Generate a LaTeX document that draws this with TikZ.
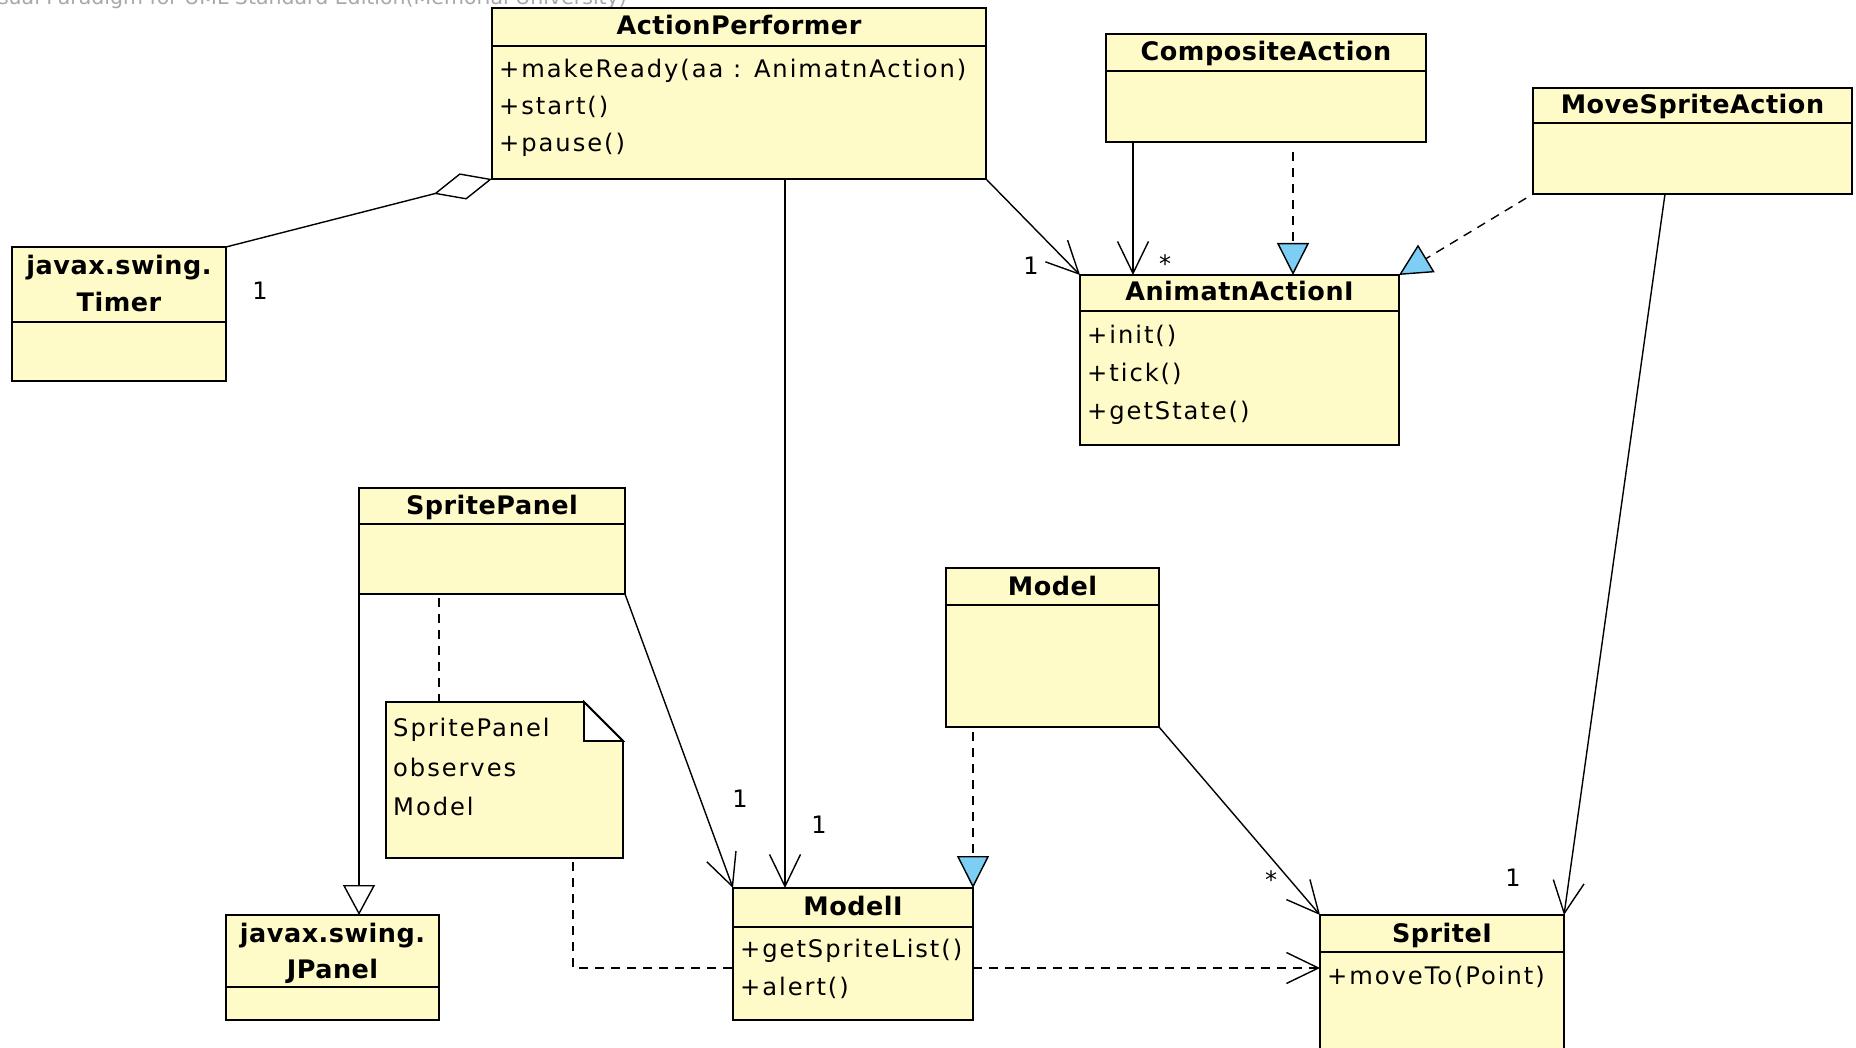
\documentclass[tikz,border=0pt]{standalone}
\usepackage{fontspec}
\setmainfont{DejaVu Sans}
\newfontfamily\mfont[LetterSpace=8]{DejaVu Sans}
\newfontfamily\tfont[LetterSpace=2]{DejaVu Sans}
\usetikzlibrary{arrows.meta,calc}
\definecolor{clsfill}{HTML}{FFFBC9}
\definecolor{realblue}{HTML}{7CCEF4}
\definecolor{wmgrey}{HTML}{A8A8A8}
\tikzset{
  cls/.style={draw=black, line width=1.8pt, fill=clsfill, inner sep=0pt, outer sep=0pt, rectangle},
  hdrline/.style={draw=black, line width=1.8pt},
  ttl/.style={font=\tfont\bfseries\fontsize{25.5}{25.5}\selectfont, inner sep=0pt, anchor=base},
  mth/.style={font=\mfont\fontsize{24.2}{24.2}\selectfont, inner sep=0pt, anchor=base west},
  mult/.style={font=\mfont\fontsize{24}{24}\selectfont, inner sep=0pt},
  conn/.style={draw=black, line width=1.4pt},
  dsh/.style={dash pattern=on 9pt off 7pt},
  assoc/.style={conn, -{Straight Barb[length=32pt,width=31pt]}},
  dep/.style={conn, dsh, -{Straight Barb[length=32pt,width=31pt]}},
  realize/.style={conn, dsh, -{Triangle[length=32pt,width=32pt,fill=realblue]}},
  general/.style={conn, -{Triangle[length=30pt,width=32pt,fill=white]}},
  aggr/.style={conn, -{Diamond[length=60pt,width=27pt,fill=white]}},
  anchorline/.style={conn, dsh},
}
\newcommand\uclass[6]{% name, x1, y1, x2, y2, header y
  \node[cls, minimum width={#4-#2}, minimum height={#5-#3}] (#1) at ({(#2+#4)/2},{(#3+#5)/2}) {};
  \draw[hdrline] (#2,#6) -- (#4,#6);
}
\begin{document}
\begin{tikzpicture}[x=1pt,y=-1pt]
\useasboundingbox (0,0) rectangle (1856,1048);
\clip (0,0) rectangle (1856,1048);
\fill[white] (0,0) rectangle (1856,1048);

% watermark (cut off at the top and left edges, as in the reference)
\node[font=\fontsize{20.5}{20.5}\selectfont, text=wmgrey, anchor=base east, inner sep=0pt] (wm) at (627,5) {Visual Paradigm for UML Standard Edition(Memorial University)};

% classes
\uclass{ap}{492}{8}{986}{179}{46}
\node[ttl] (apT) at (739,35) {ActionPerformer};
\node[mth] (apM1) at (499,78) {+makeReady(aa : AnimatnAction)};
\node[mth] (apM2) at (499,115) {+start()};
\node[mth] (apM3) at (499,152) {+pause()};

\uclass{timer}{12}{247}{226}{381}{322}
\node[ttl] (timerT1) at (119,275) {javax.swing.};
\node[ttl] (timerT2) at (119,312) {Timer};

\uclass{comp}{1106}{34}{1426}{142}{71}
\node[ttl] (compT) at (1266,61) {CompositeAction};

\uclass{move}{1533}{88}{1852}{194}{123}
\node[ttl] (moveT) at (1692.5,114) {MoveSpriteAction};

\uclass{aai}{1080}{275}{1399}{445}{311}
\node[ttl] (aaiT) at (1239.5,301) {AnimatnActionI};
\node[mth] (aaiM1) at (1087,344) {+init()};
\node[mth] (aaiM2) at (1087,382) {+tick()};
\node[mth] (aaiM3) at (1087,420) {+getState()};

\uclass{sp}{359}{488}{625}{594}{524}
\node[ttl] (spT) at (492,514) {SpritePanel};

\uclass{jp}{226}{915}{439}{1020}{987}
\node[ttl] (jpT1) at (332.5,942) {javax.swing.};
\node[ttl] (jpT2) at (332.5,978) {JPanel};

\uclass{mi}{733}{888}{973}{1020}{927}
\node[ttl] (miT) at (853,915) {ModelI};
\node[mth] (miM1) at (740,957) {+getSpriteList()};
\node[mth] (miM2) at (740,995) {+alert()};

\uclass{model}{946}{568}{1159}{727}{605}
\node[ttl] (modelT) at (1052.5,595) {Model};

\uclass{si}{1320}{915}{1564}{1070}{952}
\node[ttl] (siT) at (1442,942) {SpriteI};
\node[mth] (siM1) at (1327,984) {+moveTo(Point)};

% note
\node[inner sep=0pt, outer sep=0pt, minimum width=237pt, minimum height=156pt] (note) at (504.5,780) {};
\filldraw[draw=black, line width=1.8pt, fill=clsfill] (386,702) -- (584,702) -- (623,741) -- (623,858) -- (386,858) -- cycle;
\filldraw[draw=black, line width=1.8pt, fill=white] (584,702) -- (584,741) -- (623,741) -- cycle;
\node[mth] (noteL1) at (393,736) {SpritePanel};
\node[mth] (noteL2) at (393,776) {observes};
\node[mth] (noteL3) at (393,815) {Model};

% helper coordinates
\coordinate (xa) at (1133,0);
\coordinate (xb) at (1293,0);
\coordinate (xc) at (785,0);
\coordinate (xd) at (439,0);
\coordinate (xe) at (573,0);
\coordinate (xf) at (1665,0);
\coordinate (ylink) at (0,968);

% connectors
\draw[aggr] (timer.north east) -- (ap.south west);
\draw[assoc] (ap.south east) -- (aai.north west);
\draw[assoc] (comp.south -| xa) -- (aai.north -| xa);
\draw[realize, shorten <=10pt] (comp.south -| xb) -- (aai.north -| xb);
\draw[realize, shorten <=8pt] (move.south west) -- (aai.north east);
\draw[assoc] (ap.south -| xc) -- (mi.north -| xc);
\draw[general] (sp.south west) -- (sp.south west |- jp.north);
\draw[anchorline, shorten <=4pt] (sp.south -| xd) -- (note.north -| xd);
\draw[assoc] (sp.south east) -- (mi.north west);
\draw[anchorline, shorten <=4pt] (note.south -| xe) |- (mi.west |- ylink);
\draw[realize, shorten <=5pt] (model.south -| mi.north east) -- (mi.north east);
\draw[assoc] (model.south east) -- (si.north west);
\draw[assoc] (move.south -| xf) -- (si.north east);
\draw[dep] (mi.east |- ylink) -- (si.west |- ylink);

% multiplicities
\node[mult] (m1) at (260,291) {1};
\node[mult] (m2) at (1031,266) {1};
\node[mult] (m3) at (1165,264) {*};
\node[mult] (m4) at (740,799) {1};
\node[mult] (m5) at (819,825) {1};
\node[mult] (m6) at (1271,880) {*};
\node[mult] (m7) at (1513,878) {1};
\end{tikzpicture}
\end{document}
